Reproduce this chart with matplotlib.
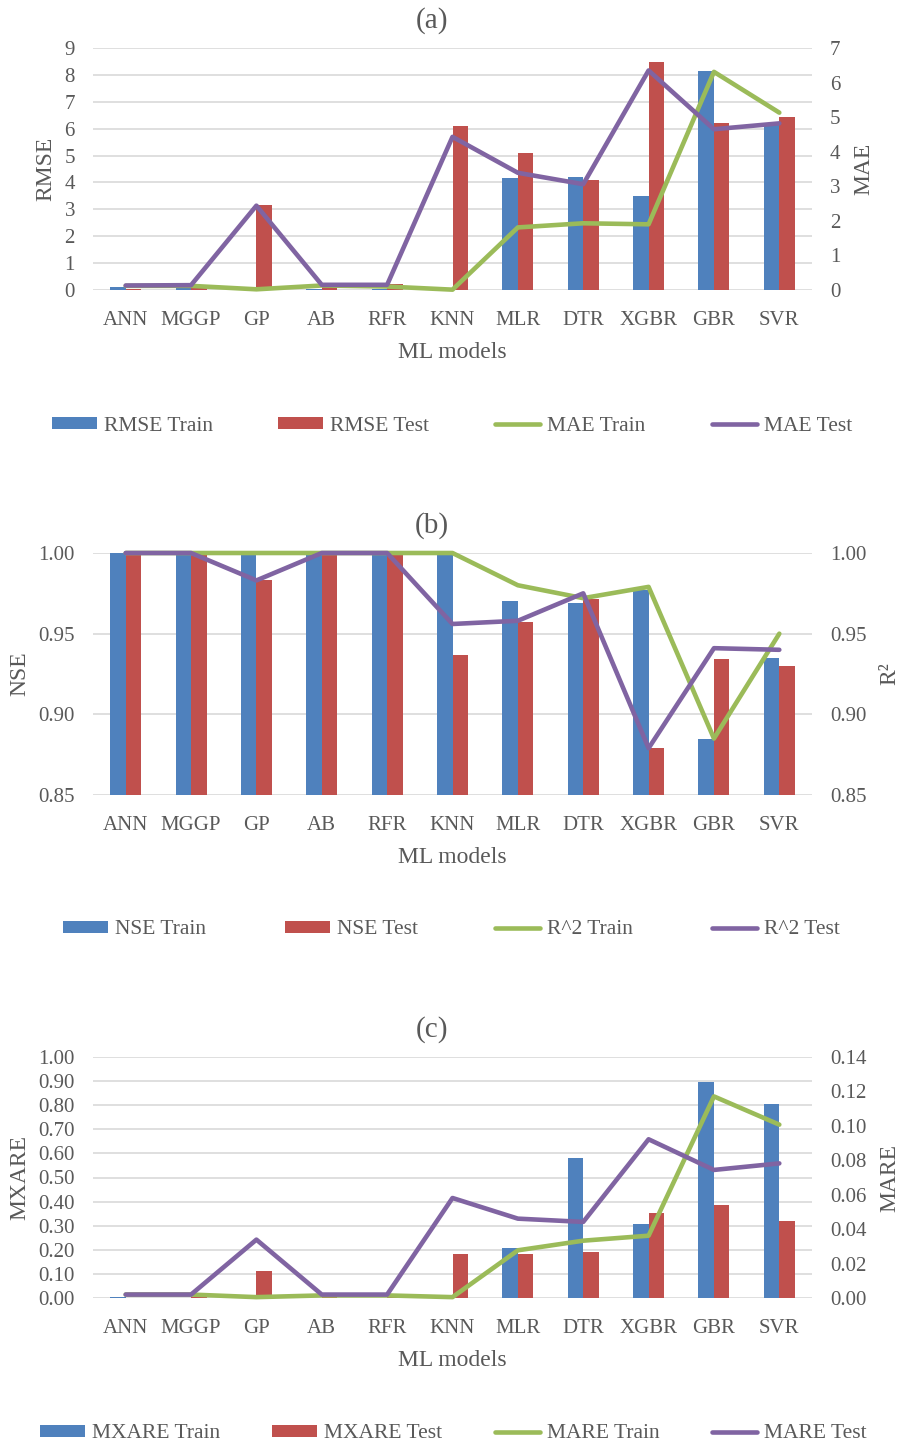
#!/usr/bin/env python3
# -*- coding: utf-8 -*-
"""
Error metrics of the ML models, three stacked panels:
(a) RMSE / MAE, (b) NSE / R^2, (c) MXARE / MARE.
Bars on the left axis, lines on the right axis.
"""
#------------------------------------------------------------------------------#
import matplotlib
matplotlib.use('Agg')
import matplotlib.pyplot as plt
import numpy as np
#------------------------------------------------------------------------------#
models = ['ANN', 'MGGP', 'GP', 'AB', 'RFR', 'KNN', 'MLR', 'DTR', 'XGBR', 'GBR', 'SVR']

# (a)
rmse_train = [0.12, 0.08, 0.02, 0.05, 0.05, 0.02, 4.17, 4.21, 3.50, 8.15, 6.13]
rmse_test = [0.05, 0.15, 3.17, 0.15, 0.22, 6.10, 5.08, 4.10, 8.49, 6.22, 6.45]
mae_train = [0.12, 0.12, 0.02, 0.13, 0.10, 0.01, 1.81, 1.93, 1.90, 6.31, 5.13]
mae_test = [0.13, 0.14, 2.44, 0.15, 0.15, 4.43, 3.39, 3.06, 6.35, 4.65, 4.82]

# (b)
nse_train = [1.000, 1.000, 0.9995, 1.000, 1.000, 0.9995, 0.970, 0.969, 0.977, 0.885, 0.935]
nse_test = [0.9995, 0.9995, 0.983, 0.9995, 0.9995, 0.937, 0.957, 0.9715, 0.879, 0.934, 0.930]
r2_train = [1.000, 1.000, 1.000, 1.000, 1.000, 1.000, 0.980, 0.972, 0.979, 0.885, 0.950]
r2_test = [1.000, 1.000, 0.983, 1.000, 1.000, 0.956, 0.958, 0.975, 0.879, 0.941, 0.940]

# (c)
mxare_train = [0.005, 0.002, 0.001, 0.001, 0.001, 0.001, 0.209, 0.581, 0.308, 0.895, 0.806]
mxare_test = [0.002, 0.003, 0.113, 0.003, 0.003, 0.184, 0.184, 0.189, 0.354, 0.387, 0.319]
mare_train = [0.002, 0.002, 0.0005, 0.0015, 0.0015, 0.0005, 0.0277, 0.0333, 0.0362, 0.1171, 0.1007]
mare_test = [0.002, 0.002, 0.0339, 0.002, 0.002, 0.0581, 0.0461, 0.0442, 0.0922, 0.0744, 0.0782]
#------------------------------------------------------------------------------#
W, H = 907, 1445
BLUE, RED, GREEN, PURPLE = '#4F81BD', '#C0504D', '#9BBB59', '#8064A2'
GRID = '#D9D9D9'
TXT = '#595959'
BAR_W = 0.237

plt.rcParams['font.family'] = ['Liberation Serif', 'DejaVu Serif']
plt.rcParams['text.color'] = TXT

fig = plt.figure(figsize=(W / 100, H / 100), dpi=100)


def put_legend(handle, label, x, y):
    """One legend entry whose handle starts at pixel x, centred on pixel y."""
    fig.legend([handle], [label], loc='center left',
               bbox_to_anchor=(x / W, 1 - y / H), frameon=False,
               borderpad=0, borderaxespad=0, handlelength=2.1,
               handleheight=0.5, handletextpad=0.3, fontsize=15.5,
               labelcolor=TXT)


def spec(vals, fmt):
    """Axis limits, tick positions and tick labels from a tick range."""
    t = [round(v, 4) for v in vals]
    return t[0], t[-1], t, [fmt.format(v) for v in t]


def panel(top, bot, title, bars, lines, left, right, names, ylabels,
          leg_x, leg_y):
    ax = fig.add_axes([93 / W, 1 - bot / H, (812 - 93) / W, (bot - top) / H])
    x = np.arange(len(models))

    b1 = ax.bar(x - BAR_W / 2, bars[0], BAR_W, color=BLUE, zorder=2)
    b2 = ax.bar(x + BAR_W / 2, bars[1], BAR_W, color=RED, zorder=2)

    ax.set_xlim(-0.5, len(models) - 0.5)
    ax.set_ylim(left[0], left[1])
    ax.set_yticks(left[2])
    ax.set_yticklabels(left[3])
    ax.set_xticks(x)
    ax.set_xticklabels(models)
    ax.grid(axis='y', color=GRID, lw=1.2, zorder=0)
    ax.set_axisbelow(True)
    ax.tick_params(axis='y', length=0, pad=13, labelsize=15, labelcolor=TXT)
    ax.tick_params(axis='x', length=0, pad=15, labelsize=15, labelcolor=TXT)
    for s in ax.spines.values():
        s.set_visible(False)
    ax.set_xlabel('ML models', fontsize=17, labelpad=9, color=TXT)
    ax.set_ylabel(ylabels[0], fontsize=17, labelpad=6, color=TXT)

    ax2 = ax.twinx()
    l1, = ax2.plot(x, lines[0], color=GREEN, lw=3.3, solid_capstyle='round',
                   solid_joinstyle='round', clip_on=False, zorder=3)
    l2, = ax2.plot(x, lines[1], color=PURPLE, lw=3.3, solid_capstyle='round',
                   solid_joinstyle='round', clip_on=False, zorder=4)
    ax2.set_ylim(right[0], right[1])
    ax2.set_yticks(right[2])
    ax2.set_yticklabels(right[3])
    ax2.tick_params(axis='y', length=0, pad=13, labelsize=15, labelcolor=TXT)
    for s in ax2.spines.values():
        s.set_visible(False)
    ax2.set_ylabel(ylabels[1], fontsize=17, labelpad=9, color=TXT)

    fig.text(432 / W, 1 - (top - 27) / H, title, ha='center', va='center',
             fontsize=21, color=TXT)

    for h, n, lx in zip([b1, b2, l1, l2], names, leg_x):
        put_legend(h, n, lx, leg_y)


#------------------------------------------------------------------------------#
a_left = spec(np.arange(0, 10, 1), '{:.0f}')
a_right = spec(np.arange(0, 8, 1), '{:.0f}')
b_left = spec(np.arange(0.85, 1.001, 0.05), '{:.2f}')
b_right = spec(np.arange(0.85, 1.001, 0.05), '{:.2f}')
c_left = spec(np.arange(0, 1.001, 0.1), '{:.2f}')
c_right = spec(np.arange(0, 0.1401, 0.02), '{:.2f}')

panel(48, 290, '(a)', [rmse_train, rmse_test], [mae_train, mae_test],
      a_left, a_right, ['RMSE Train', 'RMSE Test', 'MAE Train', 'MAE Test'],
      ['RMSE', 'MAE'], [52, 278, 495, 712], 426)

panel(553, 795, '(b)', [nse_train, nse_test], [r2_train, r2_test],
      b_left, b_right, ['NSE Train', 'NSE Test', 'R^2 Train', 'R^2 Test'],
      ['NSE', 'R²'], [63, 285, 495, 712], 930)

panel(1057, 1298, '(c)', [mxare_train, mxare_test], [mare_train, mare_test],
      c_left, c_right, ['MXARE Train', 'MXARE Test', 'MARE Train', 'MARE Test'],
      ['MXARE', 'MARE'], [40, 272, 495, 712], 1434)

fig.savefig('out.png', dpi=100, facecolor='white')
